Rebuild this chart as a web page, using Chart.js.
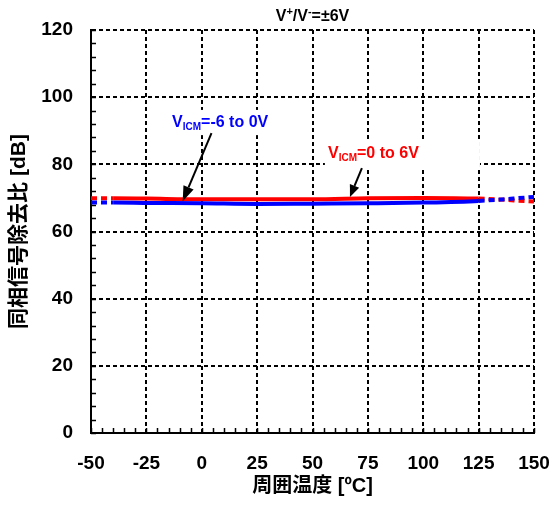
<!DOCTYPE html>
<html><head><meta charset="utf-8">
<script src="https://cdn.jsdelivr.net/npm/chart.js@4.4.0/dist/chart.umd.min.js"></script>
<style>html,body{margin:0;padding:0;background:#fff}#wrap{width:555px;height:512px}</style>
</head><body><div id="wrap"><canvas id="c" width="555" height="512"></canvas></div>
<script>
// ---- data ----
const temperatures = [-50, -40, -25, 0, 25, 50, 75, 100, 125, 150];
const cmrrPos = [69.9, 69.9, 69.8, 69.6, 69.6, 69.6, 69.9, 70.0, 69.8, 68.9]; // VICM = 0 to 6V
const cmrrNeg = [68.6, 68.6, 68.5, 68.4, 68.2, 68.3, 68.4, 68.6, 69.1, 70.3]; // VICM = -6 to 0V
const xTicks = [-50, -25, 0, 25, 50, 75, 100, 125, 150];
const yTicks = [0, 20, 40, 60, 80, 100, 120];
const measuredRange = [-40, 125];
const xMinorStep = 5;
const yMinorStep = 4;

const FONT = "'Liberation Sans', Arial, 'Noto Sans CJK JP', sans-serif";
const RED = '#ff0000';
const BLUE = '#0000ff';

const toPts = (ys) => temperatures.map((t, i) => ({x: t, y: ys[i]}));
const dashOutside = (ctx) =>
  (ctx.p0.parsed.x < measuredRange[0] || ctx.p1.parsed.x > measuredRange[1]) ? [6, 4] : undefined;

function drawArrow(ctx, x1, y1, x2, y2, head, halfW) {
  const a = Math.atan2(y2 - y1, x2 - x1);
  const bx = x2 - head * Math.cos(a), by = y2 - head * Math.sin(a);
  ctx.beginPath();
  ctx.moveTo(x1, y1); ctx.lineTo(bx, by);
  ctx.lineWidth = 2; ctx.strokeStyle = '#000'; ctx.stroke();
  ctx.beginPath();
  ctx.moveTo(x2, y2);
  ctx.lineTo(bx + halfW * Math.sin(a), by - halfW * Math.cos(a));
  ctx.lineTo(bx - halfW * Math.sin(a), by + halfW * Math.cos(a));
  ctx.closePath(); ctx.fillStyle = '#000'; ctx.fill();
}

function drawLabel(ctx, x, y, sub, rest, color) {
  ctx.fillStyle = color;
  ctx.textBaseline = 'alphabetic';
  ctx.textAlign = 'left';
  ctx.font = 'bold 16px ' + FONT;
  ctx.fillText('V', x, y);
  let w = ctx.measureText('V').width;
  ctx.font = 'bold 10px ' + FONT;
  ctx.fillText(sub, x + w, y + 3);
  w += ctx.measureText(sub).width;
  ctx.font = 'bold 16px ' + FONT;
  ctx.fillText(rest, x + w, y);
}

const minorTicks = {
  id: 'minorTicks',
  beforeDatasetsDraw(chart) {
    const {ctx, chartArea: a, scales: {x, y}} = chart;
    ctx.save();
    // white label backgrounds
    ctx.fillStyle = '#fff';
    const box = (x0, y0, x1, y1) => {
      const px0 = x.getPixelForValue(x0), px1 = x.getPixelForValue(x1);
      const py0 = y.getPixelForValue(y0), py1 = y.getPixelForValue(y1);
      ctx.fillRect(px0, py0, px1 - px0, py1 - py0);
    };
    box(55.6, 87.3, 125.6, 78.9);
    box(-14.3, 96.2, 29.9, 88.7);
    // minor / major ticks inward
    ctx.strokeStyle = '#000'; ctx.lineWidth = 1.5;
    ctx.beginPath();
    for (let v = x.min; v <= x.max + 1e-9; v += xMinorStep) {
      const px = Math.round(x.getPixelForValue(v)) + 0.5;
      ctx.moveTo(px, a.bottom); ctx.lineTo(px, a.bottom - 5);
    }
    for (let v = y.min; v <= y.max + 1e-9; v += yMinorStep) {
      const py = Math.round(y.getPixelForValue(v)) + 0.5;
      ctx.moveTo(a.left, py); ctx.lineTo(a.left + 5, py);
    }
    ctx.stroke();
    ctx.restore();
  },
  afterDatasetsDraw(chart) {
    const {ctx, chartArea: a, scales: {x, y}} = chart;
    ctx.save();
    const X = (v) => x.getPixelForValue(v), Y = (v) => y.getPixelForValue(v);
    drawLabel(ctx, X(-13.4), Y(91.1), 'ICM', '=-6 to 0V', BLUE);
    drawLabel(ctx, X(57.0), Y(82.0), 'ICM', '=0 to 6V', RED);
    drawArrow(ctx, X(4.4), Y(89.3), X(-8.6), Y(69.0), 15, 5.5);
    drawArrow(ctx, X(72.3), Y(78.9), X(66.9), Y(70.3), 12, 5);
    // title
    ctx.fillStyle = '#000';
    ctx.textBaseline = 'alphabetic';
    ctx.textAlign = 'left';
    const parts = [['V', 16, 0], ['+', 11, -6], ['/V', 16, 0], ['-', 11, -6], ['=±6V', 16, 0]];
    let total = 0;
    parts.forEach(p => { ctx.font = 'bold ' + p[1] + 'px ' + FONT; total += ctx.measureText(p[0]).width; });
    let cx = (a.left + a.right) / 2 - total / 2;
    parts.forEach(p => {
      ctx.font = 'bold ' + p[1] + 'px ' + FONT;
      ctx.fillText(p[0], cx, 21 + p[2]);
      cx += ctx.measureText(p[0]).width;
    });
    ctx.restore();
  }
};

new Chart(document.getElementById('c'), {
  type: 'line',
  data: {
    datasets: [
      {label: 'VICM=-6 to 0V', data: toPts(cmrrNeg), borderColor: BLUE, borderWidth: 4,
       pointRadius: 0, cubicInterpolationMode: 'monotone', fill: false,
       segment: {borderDash: dashOutside}},
      {label: 'VICM=0 to 6V', data: toPts(cmrrPos), borderColor: RED, borderWidth: 4,
       pointRadius: 0, cubicInterpolationMode: 'monotone', fill: false,
       segment: {borderDash: dashOutside}}
    ]
  },
  options: {
    responsive: false,
    animation: false,
    devicePixelRatio: 1,
    layout: {padding: {top: 30, right: 21, left: 0, bottom: 0}},
    plugins: {legend: {display: false}, title: {display: false}, tooltip: {enabled: false}},
    scales: {
      x: {
        type: 'linear', min: -50, max: 150,
        afterBuildTicks: (s) => { s.ticks = xTicks.map(v => ({value: v})); },
        afterFit: (s) => { s.height = 79; s.paddingLeft = 0; s.paddingRight = 0; },
        grid: {color: '#000', lineWidth: 2, drawTicks: false},
        border: {display: true, color: '#000', width: 2, dash: [4, 3]},
        ticks: {color: '#000', padding: 19, font: {family: FONT, size: 19, weight: 'bold'}, maxRotation: 0},
        title: {display: true, text: '周囲温度 [ºC]', color: '#000',
                font: {family: FONT, size: 20, weight: 'bold'}, padding: {top: 0, bottom: 14}}
      },
      y: {
        type: 'linear', min: 0, max: 120,
        afterBuildTicks: (s) => { s.ticks = yTicks.map(v => ({value: v})); },
        afterFit: (s) => { s.width = 91; s.paddingTop = 0; s.paddingBottom = 0; },
        grid: {color: '#000', lineWidth: 2, drawTicks: false},
        border: {display: true, color: '#000', width: 2, dash: [4, 3]},
        ticks: {color: '#000', padding: 18, font: {family: FONT, size: 19, weight: 'bold'}},
        title: {display: true, text: '同相信号除去比 [dB]', color: '#000',
                font: {family: FONT, size: 21, weight: 'bold'}, padding: {top: 7, bottom: 0}}
      }
    }
  },
  plugins: [minorTicks]
});
</script>
</body></html>
